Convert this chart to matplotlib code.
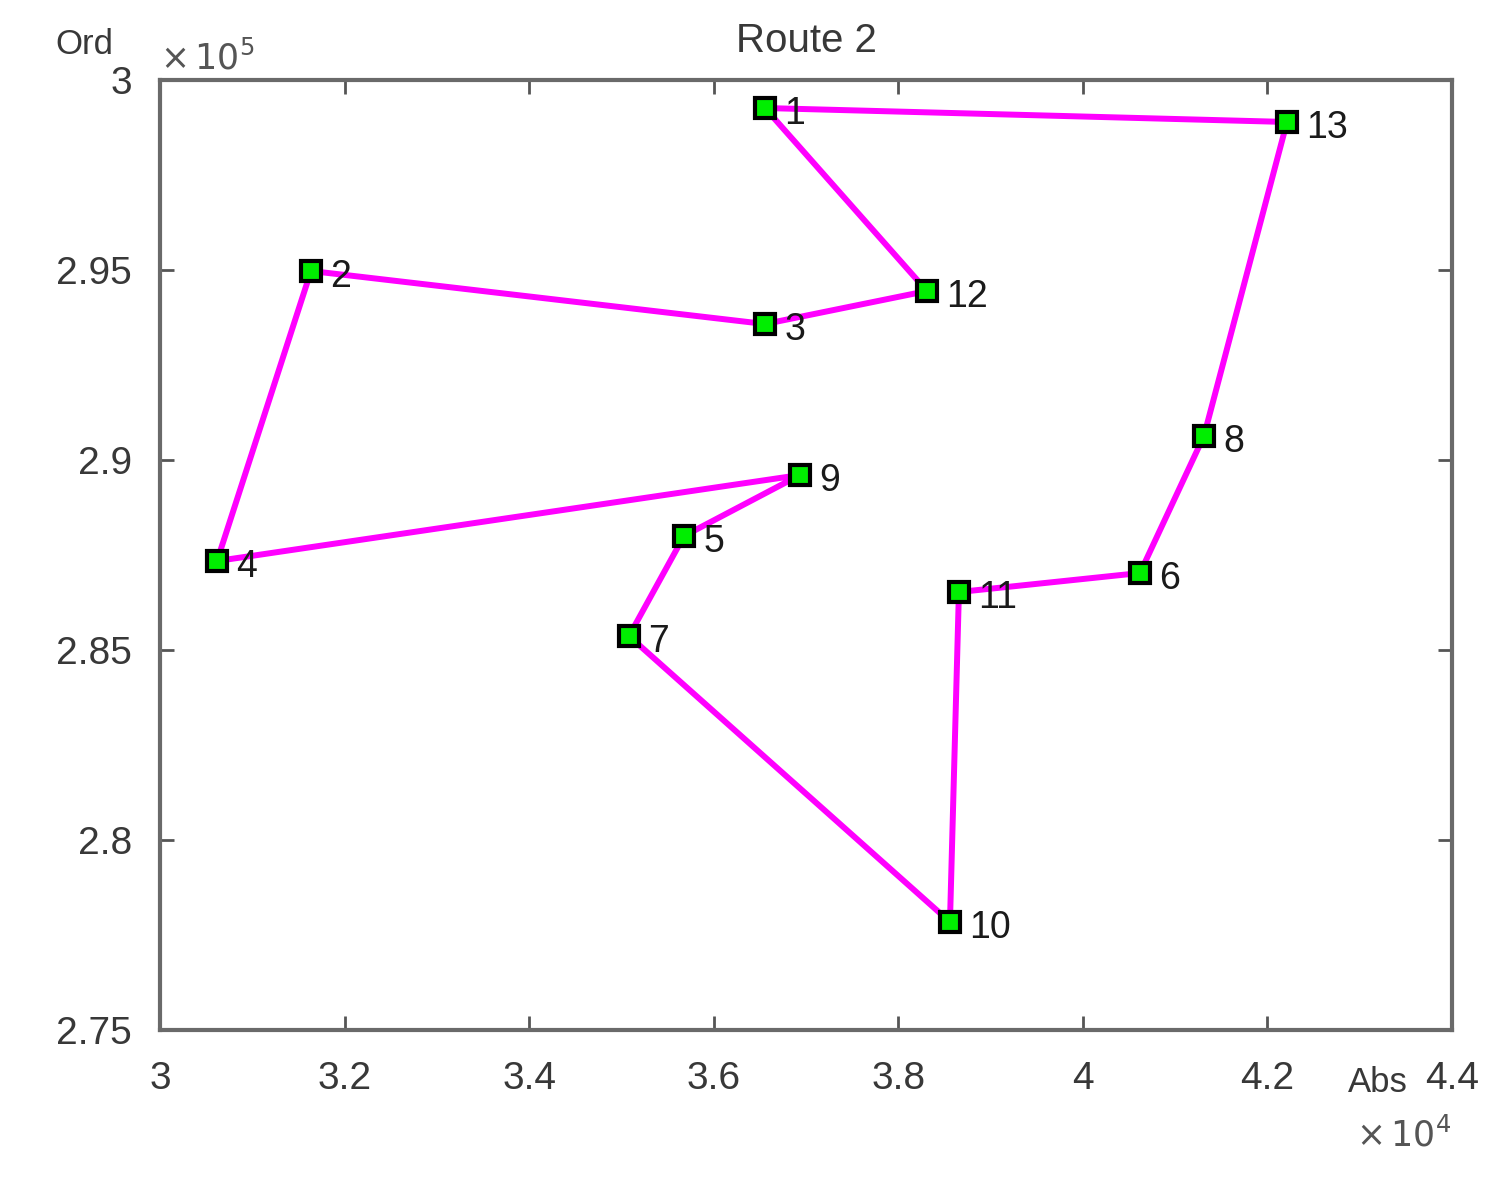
import matplotlib.pyplot as plt
import numpy as np

plt.rcParams['font.family'] = ['Liberation Sans', 'DejaVu Sans']

# route nodes (Abs, Ord), in the order they are visited
labels = ['1', '12', '3', '2', '4', '9', '5', '7', '10', '11', '6', '8', '13']
abs_x = [36556, 38311, 36556, 31636, 30618, 36935, 35678, 35082, 38560, 38657, 40619, 41312, 42212]
ord_y = [299263, 294447, 293579, 294974, 287342, 289605, 288000, 285368, 277842, 286526, 287026, 290632, 298895]

xticks = [3, 3.2, 3.4, 3.6, 3.8, 4, 4.2, 4.4]
yticks = [2.75, 2.8, 2.85, 2.9, 2.95, 3]

txt = '#383838'
fig = plt.figure(figsize=(15.11, 11.87), dpi=100)
ax = fig.add_axes([160/1511, 1-1030/1187, 1292/1511, 950/1187])

x = np.array(abs_x) / 1e4
y = np.array(ord_y) / 1e5
# close the loop back to node 1
ax.plot(np.append(x, x[0]), np.append(y, y[0]), color='#ff00ff', lw=4.3, zorder=2)
ax.plot(x, y, 's', ms=14, mfc='#00ee00', mec='black', mew=3, zorder=3)
for lab, xi, yi in zip(labels, x, y):
    ax.annotate(lab, (xi, yi), xytext=(14, -4), textcoords='offset points',
                fontsize=27, color='#1a1a1a', va='center', ha='left')

ax.set_xlim(3, 4.4)
ax.set_ylim(2.75, 3)
ax.set_xticks(xticks)
ax.set_xticklabels(['3', '3.2', '3.4', '3.6', '3.8', '4', '4.2', '4.4'])
ax.set_yticks(yticks)
ax.set_yticklabels(['2.75', '2.8', '2.85', '2.9', '2.95', '3'])
ax.tick_params(direction='in', top=True, right=True, length=10, width=2,
               color='#555555', labelsize=28, labelcolor=txt)
ax.tick_params(axis='x', pad=22)
ax.tick_params(axis='y', pad=20)
for s in ax.spines.values():
    s.set_linewidth(3)
    s.set_color('#6a6a6a')

ax.set_title('Route 2', fontsize=29, color=txt, pad=20)
fig.text(55/1511, 1-45/1187, 'Ord', fontsize=25, color=txt, ha='left', va='center')
fig.text(160/1511, 1-58/1187, r'$\times\,10^5$', fontsize=25, color='#555555', ha='left', va='center')
fig.text(1348/1511, 1-1083/1187, 'Abs', fontsize=25, color=txt, ha='left', va='center')
fig.text(1356/1511, 1-1135/1187, r'$\times\,10^4$', fontsize=25, color='#555555', ha='left', va='center')

fig.savefig('out.png', dpi=100, facecolor='white')
